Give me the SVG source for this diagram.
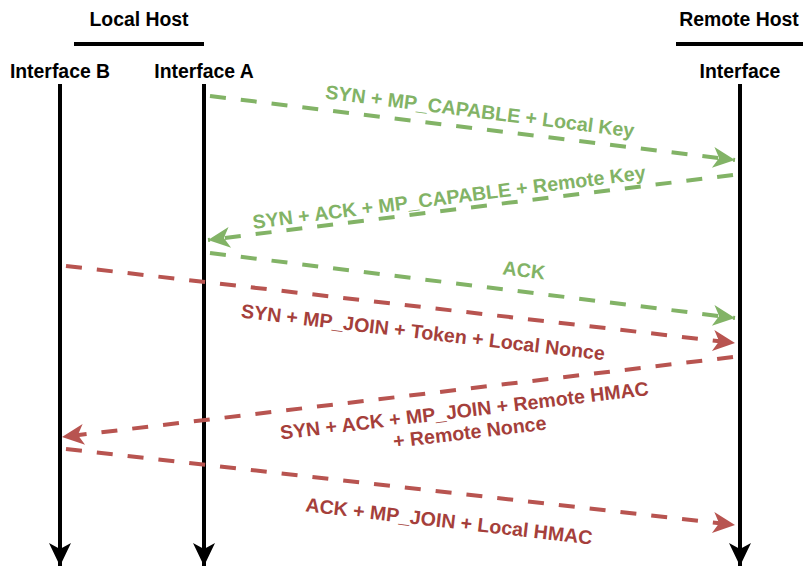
<svg xmlns="http://www.w3.org/2000/svg" width="803" height="567" viewBox="0 0 803 567">
  <style>
    .hdr { font-family: "Liberation Sans", Arial, sans-serif; font-weight: bold; font-size: 19.4px; fill: #000; text-anchor: middle; }
    .bar { stroke: #000; stroke-width: 4; fill: none; }
    .life { stroke: #000; stroke-width: 4; fill: none; marker-end: url(#headBlack); }
    .msg { stroke-width: 4; fill: none; stroke-dasharray: 16 15; }
    .g { stroke: #82b366; marker-end: url(#headGreen); }
    .r { stroke: #b85450; marker-end: url(#headRed); }
    .lbl { font-family: "Liberation Sans", Arial, sans-serif; font-weight: bold; font-size: 19.6px; text-anchor: middle; }
    .lg { fill: #82b366; }
    .lr { fill: #a53f3b; }
  </style>
  <defs>
    <marker id="headBlack" markerUnits="userSpaceOnUse" markerWidth="26" markerHeight="26" viewBox="-24 -13 26 26" refX="0" refY="0" orient="auto">
      <path d="M0,0 L-23,-11 L-17,0 L-23,11 Z" fill="#000"/>
    </marker>
    <marker id="headGreen" markerUnits="userSpaceOnUse" markerWidth="26" markerHeight="26" viewBox="-24 -13 26 26" refX="0" refY="0" orient="auto">
      <path d="M0,0 L-22,-10.5 L-16,0 L-22,10.5 Z" fill="#82b366"/>
    </marker>
    <marker id="headRed" markerUnits="userSpaceOnUse" markerWidth="26" markerHeight="26" viewBox="-24 -13 26 26" refX="0" refY="0" orient="auto">
      <path d="M0,0 L-22,-10.5 L-16,0 L-22,10.5 Z" fill="#b85450"/>
    </marker>
  </defs>

  <rect width="803" height="567" fill="#fff"/>

  <!-- host headers -->
  <g id="local-host">
    <text class="hdr" x="139" y="26">Local Host</text>
    <line class="bar" x1="74" y1="44" x2="204" y2="44"/>
  </g>
  <g id="remote-host">
    <text class="hdr" x="739" y="26">Remote Host</text>
    <line class="bar" x1="676" y1="44" x2="803" y2="44"/>
  </g>

  <!-- lifelines -->
  <g id="interface-b">
    <text class="hdr" x="60" y="78">Interface B</text>
    <line class="life" x1="60" y1="84" x2="60" y2="566"/>
  </g>
  <g id="interface-a">
    <text class="hdr" x="204" y="78">Interface A</text>
    <line class="life" x1="204" y1="84" x2="204" y2="566"/>
  </g>
  <g id="remote-interface">
    <text class="hdr" x="740" y="78">Interface</text>
    <line class="life" x1="740" y1="84" x2="740" y2="566"/>
  </g>

  <!-- messages -->
  <g id="connectors">
    <g id="msg-syn-capable">
      <line class="msg g" x1="210" y1="96" x2="735" y2="160"/>
      <text class="lbl lg" transform="translate(480,111) rotate(7.2)" y="7">SYN + MP_CAPABLE + Local Key</text>
    </g>
    <g id="msg-synack-capable">
      <line class="msg g" x1="733" y1="175" x2="208" y2="240"/>
      <text class="lbl lg" transform="translate(449,197) rotate(-7.25)" y="7">SYN + ACK + MP_CAPABLE + Remote Key</text>
    </g>
    <g id="msg-ack">
      <line class="msg g" x1="210" y1="253" x2="735" y2="318"/>
      <text class="lbl lg" transform="translate(524,270) rotate(7.06)" y="7">ACK</text>
    </g>
    <g id="msg-syn-join">
      <line class="msg r" x1="66" y1="266" x2="735" y2="343"/>
      <text class="lbl lr" transform="translate(423,332) rotate(6.7)" y="7">SYN + MP_JOIN + Token + Local Nonce</text>
    </g>
    <g id="msg-synack-join">
      <line class="msg r" x1="733" y1="357" x2="62" y2="437"/>
      <text class="lbl lr" transform="translate(467,410) rotate(-6.9)">
        <tspan x="0" y="7">SYN + ACK + MP_JOIN + Remote HMAC</tspan>
        <tspan x="0" y="29">+ Remote Nonce</tspan>
      </text>
    </g>
    <g id="msg-ack-join">
      <line class="msg r" x1="66" y1="449" x2="735" y2="525"/>
      <text class="lbl lr" transform="translate(449,521) rotate(6.6)" y="7">ACK + MP_JOIN + Local HMAC</text>
    </g>
  </g>
</svg>
